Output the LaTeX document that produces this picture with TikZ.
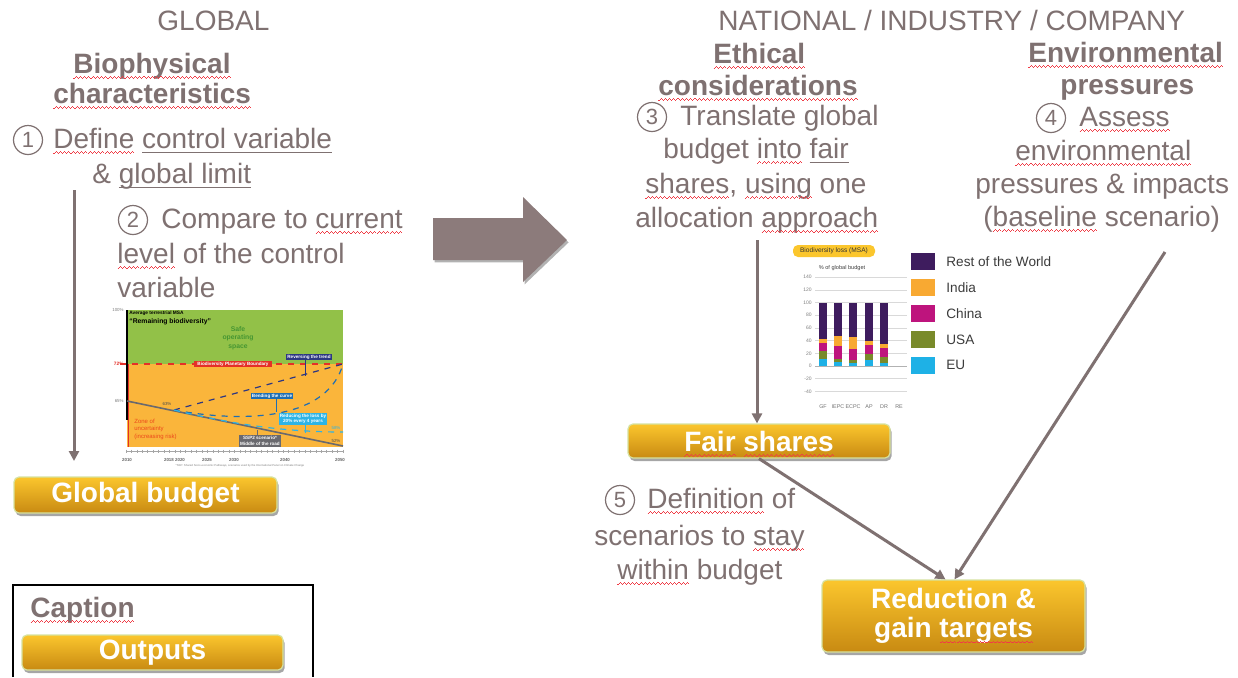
\documentclass[tikz,border=0pt]{standalone}
\usepackage{fontspec}
\setmainfont{Liberation Sans}
\usetikzlibrary{shadows,arrows.meta}
\definecolor{txt}{RGB}{127,113,113}
\definecolor{sqred}{RGB}{240,60,70}
\definecolor{goldtop}{RGB}{251,198,45}
\definecolor{goldbot}{RGB}{200,138,18}
\definecolor{boxedge}{RGB}{214,226,160}
\definecolor{arrowfill}{RGB}{140,123,123}
\definecolor{chgreen}{RGB}{146,193,72}
\definecolor{chdgreen}{RGB}{70,150,50}
\definecolor{chorange}{RGB}{250,181,59}
\definecolor{chred}{RGB}{228,48,40}
\definecolor{chnavy}{RGB}{45,55,130}
\definecolor{chblue}{RGB}{30,110,180}
\definecolor{chlblue}{RGB}{45,180,230}
\definecolor{chgrey}{RGB}{105,105,110}
\definecolor{cRoW}{RGB}{62,28,94}
\definecolor{cIN}{RGB}{248,169,50}
\definecolor{cCN}{RGB}{190,20,125}
\definecolor{cUS}{RGB}{121,138,42}
\definecolor{cEU}{RGB}{30,177,230}
\definecolor{legtxt}{RGB}{60,60,60}
\newsavebox\wordbox
\newcommand\waveunit{\hbox{\rule[-0.35pt]{0.55pt}{0.45pt}\rule[-0.05pt]{0.5pt}{0.45pt}\rule[0.25pt]{0.55pt}{0.45pt}\rule[-0.05pt]{0.5pt}{0.45pt}}}
\newcommand\sq[1]{\sbox\wordbox{#1}\rlap{\usebox\wordbox}\raisebox{-2.4pt}[0pt][0pt]{\hbox to \wd\wordbox{\color{sqred}\xleaders\waveunit\hfill}}}
\newcommand\gu[1]{\sbox\wordbox{#1}\rlap{\usebox\wordbox}\raisebox{-2.7pt}[0pt][0pt]{\color{txt}\rule{\wd\wordbox}{0.55pt}}}
\tikzset{
  tx/.style={anchor=base west, inner sep=0pt, text=txt, font=\fontsize{14}{17.5}\selectfont},
  hd/.style={anchor=base west, inner sep=0pt, text=txt, font=\fontsize{14}{17.5}\selectfont\bfseries},
  num/.style={circle, draw=txt, line width=0.6pt, minimum size=14.5pt, inner sep=0pt, text=txt,
    font=\fontsize{11}{11}\selectfont},
  outbox/.style={rounded corners=2.5pt, draw=boxedge, line width=0.6pt, top color=goldtop,
    bottom color=goldbot, text=white, inner sep=0pt, align=center,
    font=\fontsize{14}{14.5}\selectfont\bfseries,
    drop shadow={shadow xshift=0.8pt, shadow yshift=-1.5pt, opacity=0.35, fill=black}},
  conn/.style={draw=txt, line width=1.5pt, -{Triangle[length=5pt,width=5pt]}},
  chlab/.style={inner sep=0.6pt, text=white, align=center, font=\fontsize{2.3}{2.7}\selectfont\bfseries},
}
\begin{document}
\begin{tikzpicture}[x=0.5pt,y=-0.5pt]
\useasboundingbox (0,0) rectangle (1238,677);
\fill[white] (0,0) rectangle (1238,677);

% ---------------- left texts
\node[tx] (tg) at (157,30) {GLOBAL};
\node[hd] (bio1) at (73,73) {\sq{Biophysical}};
\node[hd] (bio2) at (53,103) {\sq{characteristics}};
\node[num] (n1) at (28,140) {1};
\node[tx] (s1a) at (53,148) {\sq{Define} \gu{control variable}};
\node[tx] (s1b) at (92,183) {\& \gu{global limit}};
\node[num] (n2) at (133,220) {2};
\node[tx] (s2a) at (161,228) {Compare to \sq{current}};
\node[tx] (s2b) at (117,263) {\sq{level} of the control};
\node[tx] (s2c) at (117,297) {variable};

% ---------------- left chart
\begin{scope}
 \fill[chgreen] (127,310) rectangle (343,364);
 \fill[chorange] (127,364) rectangle (343,447);
 \draw[gray!70, line width=0.3pt] (126,451) -- (343,451);
 \foreach \t in {0,...,40} \draw[gray!70,line width=0.3pt] ({126+\t*5.425},449.5) -- ({126+\t*5.425},452.5);
 \draw[chred, dashed, line width=0.6pt] (120,364) -- (343,364);
 \draw[black, line width=0.8pt] (127,310) -- (127,420);
 \draw[chred, line width=0.4pt] (128.5,364) -- (128.5,447);
 \draw[chgrey, line width=0.8pt] (127,401) -- (343,446);
 \draw[chnavy, dashed, line width=0.6pt] (174,410) -- (343,364);
 \draw[chblue, dashed, line width=0.6pt] (174,410) .. controls (250,424) and (328,418) .. (343,364);
 \draw[chlblue, dashed, line width=0.6pt] (174,410) .. controls (240,426) and (290,432) .. (343,432);
 \draw[chnavy, line width=0.3pt] (305,360) -- (305,376);
 \draw[chblue, line width=0.3pt] (276,399) -- (276,412);
 \draw[chlblue, line width=0.3pt] (305,425) -- (305,433);
 \draw[chgrey, line width=0.3pt] (257,435) -- (257,430);
 \node[font=\fontsize{2.4}{2.9}\selectfont\bfseries, text=black, anchor=west, inner sep=0pt] (ct1) at (129,313.5) {Average terrestrial MSA};
 \node[font=\fontsize{3.4}{4}\selectfont\bfseries, text=black, anchor=west, inner sep=0pt] (ct2) at (129,322) {“Remaining biodiversity”};
 \node[align=center, text=chdgreen, inner sep=0pt, font=\fontsize{3.4}{4.2}\selectfont\bfseries] (safe) at (238,338) {Safe\\operating\\space};
 \node[chlab, fill=chred, minimum width=39pt] (pb) at (233,364) {Biodiversity Planetary Boundary};
 \node[chlab, fill=chnavy, minimum width=23pt] (rev) at (309,357) {Reversing the trend};
 \node[chlab, fill=chblue, minimum width=18pt] (bend) at (272,396) {Bending the curve};
 \node[chlab, fill=chlblue] (redu) at (303,419) {Reducing the loss by\\20\% every 4 years};
 \node[chlab, fill=chgrey] (ssp) at (260,441) {SSP2 scenario*\\Middle of the road};
 \node[align=left, anchor=north west, inner sep=0pt, text=chred!70!orange, font=\fontsize{3}{3.6}\selectfont] (zone) at (134,419) {Zone of\\uncertainty\\(increasing risk)};
 \node[anchor=east, inner sep=0.5pt, font=\fontsize{2.2}{2.4}\selectfont, text=gray] (p100) at (125,310) {100\%};
 \node[anchor=east, inner sep=0.5pt, font=\fontsize{2.4}{2.6}\selectfont\bfseries, text=chred] (p72) at (125,364) {72\%};
 \node[anchor=east, inner sep=0.5pt, font=\fontsize{2.2}{2.4}\selectfont, text=gray] (p65) at (125,401) {65\%};
 \node[inner sep=0pt, font=\fontsize{2.2}{2.4}\selectfont, text=gray!60!black] (p69) at (167,404) {63\%};
 \node[inner sep=0pt, font=\fontsize{2.2}{2.4}\selectfont, text=chlblue] (p58) at (336,428) {58\%};
 \node[inner sep=0pt, font=\fontsize{2.2}{2.4}\selectfont, text=gray!60!black] (p52) at (336,441) {52\%};
 \foreach \yr/\xx in {2010/127,2018/169,2020/180,2025/207,2030/234,2040/285,2050/340}
   \node[inner sep=0pt, font=\fontsize{2.2}{2.4}\selectfont\bfseries, text=gray!80!black] at (\xx,460) {\yr};
 \node[inner sep=0pt, font=\fontsize{1.4}{1.6}\selectfont, text=gray] (foot) at (240,466) {*SSP: Shared Socio-economic Pathways, scenarios used by the International Panel on Climate Change};
\end{scope}

% ---------------- left arrow + output
\coordinate (a1s) at (74,190);
\coordinate (a1e) at (74,461);
\draw[conn] (a1s) -- (a1e);
\node[outbox, minimum width=131.5pt, minimum height=18pt] (gb) at (145.5,495) {Global budget};

% ---------------- big arrow
\fill[arrowfill, drop shadow={shadow xshift=0.8pt, shadow yshift=-1.2pt, opacity=0.3, fill=black}]
  (433,218) -- (523,218) -- (523,197) -- (567,240) -- (523,282) -- (523,260) -- (433,260) -- cycle;

% ---------------- right texts
\node[tx] (tn) at (718,30) {NATIONAL / INDUSTRY / COMPANY};
\node[hd] (eth1) at (713,63) {\sq{Ethical}};
\node[hd] (eth2) at (658,95) {\sq{considerations}};
\node[num] (n3) at (652,117) {3};
\node[tx] (s3a) at (680,125) {Translate global};
\node[tx] (s3b) at (663,158) {budget \sq{into} \gu{fair}};
\node[tx] (s3c) at (645,193) {\sq{shares}, \sq{using} one};
\node[tx] (s3d) at (635,227) {allocation \sq{approach}};

\node[hd] (env1) at (1028,62) {\sq{Environmental}};
\node[hd] (env2) at (1060,94) {pressures};
\node[num] (n4) at (1051,118) {4};
\node[tx] (s4a) at (1079,126) {\sq{Assess}};
\node[tx] (s4b) at (1015,160) {\sq{environmental}};
\node[tx] (s4c) at (975,193) {pressures \& impacts};
\node[tx] (s4d) at (983,226) {(\sq{baseline} scenario)};

\node[num] (n5) at (620,500) {5};
\node[tx] (s5a) at (647,508) {\sq{Definition} of};
\node[tx] (s5b) at (594,545) {scenarios to \sq{stay}};
\node[tx] (s5c) at (617,579) {\sq{within} budget};

% ---------------- bar chart
\begin{scope}
 \fill[goldtop, rounded corners=2.5pt] (793,245) rectangle (875,257);
 \node[inner sep=0pt, font=\fontsize{3.3}{3.6}\selectfont, text=black!80] (bl) at (834,251) {Biodiversity loss (MSA)};
 \node[inner sep=0pt, font=\fontsize{2.8}{3}\selectfont, text=black!75] (pgb) at (842,268) {\% of global budget};
 \foreach \v in {-40,-20,...,140} {
   \draw[gray!30, line width=0.3pt] (815,{366-\v*0.635}) -- (907,{366-\v*0.635});
   \node[anchor=east, inner sep=0pt, font=\fontsize{2.5}{2.7}\selectfont, text=gray] at (812,{366-\v*0.635}) {\v};
 }
 \draw[gray!60, line width=0.4pt] (815,366) -- (907,366);
 \foreach \bx/\pa/\pb/\pc/\pd in {819/11/23/37/42, 834/6/11/31/48, 849/5/10/27/45, 865/9/19/33/40, 880/5/14/28/35} {
   \fill[cEU]  (\bx,366) rectangle (\bx+8,{366-\pa*0.635});
   \fill[cUS]  (\bx,{366-\pa*0.635}) rectangle (\bx+8,{366-\pb*0.635});
   \fill[cCN]  (\bx,{366-\pb*0.635}) rectangle (\bx+8,{366-\pc*0.635});
   \fill[cIN]  (\bx,{366-\pc*0.635}) rectangle (\bx+8,{366-\pd*0.635});
   \fill[cRoW] (\bx,{366-\pd*0.635}) rectangle (\bx+8,{366-100*0.635});
 }
 \foreach \lx/\lt in {823/GF, 838/IEPC, 853/ECPC, 869/AP, 884/DR, 899/RE}
   \node[inner sep=0pt, font=\fontsize{2.7}{2.9}\selectfont, text=gray!90!black] at (\lx,407) {\lt};
 \foreach \ly/\lc/\ll in {261.5/cRoW/Rest of the World, 287.5/cIN/India, 313.5/cCN/China, 339.5/cUS/USA, 365/cEU/EU} {
   \fill[\lc] (911,\ly-8.5) rectangle (935,\ly+8.5);
   \node[anchor=base west, inner sep=0pt, font=\fontsize{6.8}{7}\selectfont, text=legtxt] at (946,\ly+4.8) {\ll};
 }
\end{scope}

% ---------------- right outputs and connectors
\node[outbox, minimum width=131pt, minimum height=17pt] (fair) at (759,441) {\sq{Fair} \sq{shares}};
\node[outbox, minimum width=131.5pt, minimum height=36pt] (red) at (953.5,616) {Reduction \&\\gain \sq{targets}};
\coordinate (a3s) at (757,240);
\draw[conn] (a3s) -- (a3s |- fair.north);
\draw[conn] (fair.south) -- ([xshift=-4pt]red.north);
\coordinate (a4s) at (1165,252);
\draw[conn] (a4s) -- ([xshift=0.5pt]red.north);

% ---------------- caption
\draw[black, line width=0.8pt] (13,677) -- (13,585) -- (313,585) -- (313,677);
\node[hd] (cap) at (30,617) {\sq{Caption}};
\node[outbox, minimum width=130.5pt, minimum height=17.5pt] (outp) at (152.5,652.5) {Outputs};
\end{tikzpicture}
\end{document}
